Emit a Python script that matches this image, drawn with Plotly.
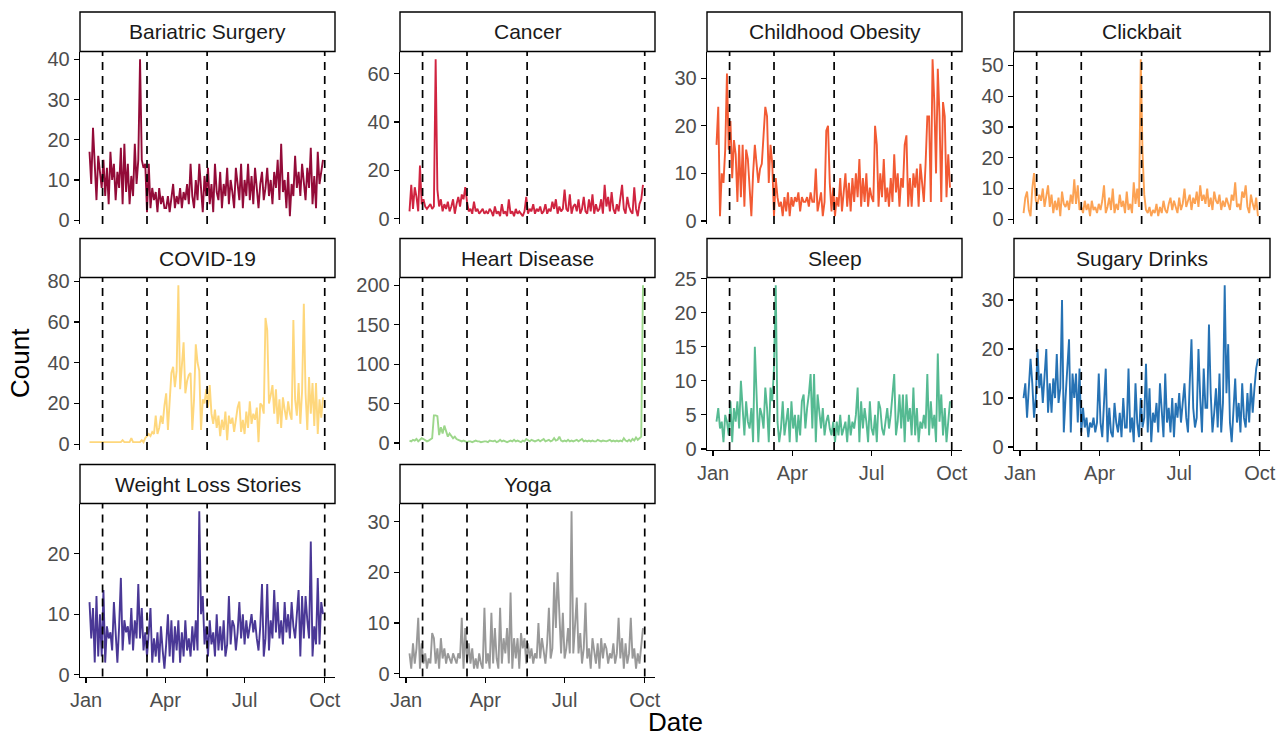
import pandas as pd
import plotly.graph_objects as go

# ---------------- data ----------------
dates = pd.date_range("2020-01-05", periods=135, freq="2D")

topics = ["Bariatric Surgery", "Cancer", "Childhood Obesity", "Clickbait", "COVID-19",
          "Heart Disease", "Sleep", "Sugary Drinks", "Weight Loss Stories", "Yoga"]

bariatric = [17, 9, 23, 12, 5, 16, 11, 8, 15, 6, 13, 4, 17, 10,
             14, 5, 12, 8, 18, 4, 19, 7, 14, 4, 11, 6, 19, 9,
             15, 40, 15, 13, 14, 2, 14, 3, 8, 5, 7, 2, 8, 4, 6, 3,
             3, 6, 2, 5, 9, 3, 6, 4, 8, 3, 7, 5, 9, 4, 14,
             6, 3, 10, 5, 14, 7, 2, 11, 6, 13, 4, 9, 2, 14, 7,
             5, 12, 3, 9, 6, 13, 4, 10, 7, 3, 13, 8, 5, 14, 3,
             10, 6, 14, 5, 11, 4, 13, 7, 3, 9, 12, 5, 8, 13, 6, 10,
             4, 12, 8, 15, 5, 19, 7, 10, 3, 12, 1, 9, 6, 16, 8,
             12, 6, 14, 9, 5, 13, 8, 18, 4, 11, 3, 17, 9, 12, 15]

cancer = [3, 14, 4, 13, 9, 3, 22, 6, 8, 5, 4, 5, 6, 4,
          5, 66, 12, 5, 8, 3, 6, 4, 7, 3, 5, 8, 2, 6,
          9, 5, 10, 8, 13, 7, 3, 4, 2, 7, 3, 4, 2, 3, 4, 2,
          3, 2, 4, 3, 1, 5, 2, 3, 1, 6, 2, 3, 1, 8, 2,
          3, 1, 4, 2, 3, 2, 1, 3, 9, 2, 4, 3, 6, 2, 4,
          3, 5, 2, 3, 6, 2, 4, 3, 7, 4, 8, 2, 5, 3, 4,
          12, 4, 3, 10, 2, 5, 6, 3, 8, 2, 4, 9, 3, 2, 8, 3,
          10, 2, 6, 3, 4, 8, 2, 14, 5, 9, 3, 11, 4, 2, 6,
          3, 8, 14, 4, 2, 9, 5, 3, 2, 13, 4, 1, 6, 8, 14]

childhood_obesity = [16, 24, 1, 10, 8, 15, 31, 15, 21, 9, 17, 14, 4, 16,
                     5, 16, 3, 15, 13, 7, 1, 10, 16, 12, 8, 11, 12, 18,
                     24, 22, 8, 16, 12, 1, 9, 5, 3, 4, 1, 5, 2, 6, 1, 5,
                     3, 5, 4, 6, 2, 5, 4, 4, 5, 3, 6, 4, 4, 11, 2,
                     4, 6, 1, 4, 19, 20, 8, 2, 7, 1, 5, 3, 9, 2, 6,
                     10, 3, 8, 2, 9, 4, 10, 5, 13, 3, 9, 4, 10, 3, 7,
                     5, 4, 20, 16, 3, 10, 5, 13, 4, 7, 3, 9, 4, 14, 6, 10,
                     3, 9, 7, 16, 18, 3, 9, 3, 10, 7, 11, 3, 12, 8, 4,
                     12, 22, 22, 4, 34, 25, 10, 32, 22, 4, 25, 22, 5, 14, 7]

clickbait = [2, 7, 9, 3, 1, 10, 15, 6, 5, 8, 6, 10, 4, 7,
             11, 4, 8, 2, 6, 3, 7, 1, 9, 5, 4, 6, 3, 8,
             5, 13, 5, 11, 3, 4, 2, 6, 3, 5, 1, 6, 3, 4, 2, 5,
             3, 6, 11, 2, 4, 7, 3, 10, 2, 5, 3, 8, 4, 6, 2,
             9, 3, 5, 2, 12, 5, 10, 4, 52, 22, 8, 3, 2, 4, 1,
             3, 2, 5, 1, 4, 2, 6, 3, 2, 5, 7, 3, 6, 4, 2,
             7, 3, 5, 10, 4, 6, 8, 3, 7, 5, 9, 4, 11, 6, 8, 5,
             10, 4, 7, 3, 9, 6, 5, 8, 3, 6, 4, 7, 5, 3, 8,
             6, 12, 4, 5, 3, 9, 7, 11, 4, 2, 8, 5, 3, 7, 1]

covid = [1, 1, 1, 1, 1, 1, 1, 1, 1, 1, 1, 1, 1, 1,
         1, 1, 1, 1, 1, 2, 1, 1, 1, 1, 3, 1, 1, 1,
         1, 1, 2, 1, 3, 4, 5, 4, 6, 5, 14, 5, 8, 14, 10, 19,
         25, 7, 19, 35, 38, 28, 36, 78, 27, 40, 50, 25, 31, 34, 35,
         7, 22, 49, 40, 36, 7, 22, 20, 27, 18, 29, 15, 10, 17, 8,
         14, 4, 12, 7, 16, 2, 14, 10, 13, 6, 12, 18, 21, 6, 12,
         5, 16, 8, 21, 10, 15, 12, 18, 1, 20, 19, 15, 62, 56, 20, 24,
         29, 15, 27, 10, 22, 8, 23, 17, 12, 21, 15, 12, 61, 22, 14,
         30, 10, 26, 69, 25, 7, 33, 15, 30, 9, 30, 5, 22, 13, 23]

heart_disease = [3, 2, 4, 3, 5, 2, 4, 6, 5, 3, 2, 3, 4, 6,
                 35, 35, 34, 10, 20, 12, 22, 15, 8, 12, 9, 6, 8, 5,
                 4, 3, 2, 3, 2, 1, 2, 2, 1, 2, 3, 2, 2, 1, 2, 2,
                 2, 1, 3, 2, 2, 3, 1, 2, 4, 2, 3, 2, 1, 2, 3,
                 2, 4, 2, 3, 2, 1, 3, 2, 5, 3, 2, 4, 3, 2, 3,
                 4, 2, 3, 5, 2, 3, 4, 2, 3, 6, 3, 4, 8, 3, 2,
                 3, 2, 4, 2, 3, 2, 3, 4, 2, 3, 5, 2, 3, 2, 3, 2,
                 3, 2, 2, 4, 3, 2, 3, 2, 2, 3, 4, 2, 3, 2, 3,
                 2, 3, 2, 6, 3, 2, 4, 2, 5, 3, 7, 4, 6, 8, 200]

sleep = [4, 6, 3, 4, 1, 5, 4, 2, 7, 1, 6, 4, 7, 3,
         10, 5, 2, 7, 4, 3, 6, 1, 15, 8, 1, 6, 5, 3,
         9, 6, 1, 9, 7, 12, 24, 4, 1, 3, 7, 2, 4, 6, 1, 7,
         3, 5, 1, 5, 2, 7, 8, 3, 6, 8, 11, 3, 11, 1, 8,
         5, 3, 6, 2, 4, 5, 3, 2, 4, 1, 4, 2, 5, 2, 3,
         4, 1, 5, 2, 4, 3, 5, 9, 1, 7, 3, 6, 4, 1, 7,
         3, 2, 5, 1, 7, 6, 3, 2, 4, 6, 3, 5, 8, 11, 2, 4,
         8, 3, 8, 1, 8, 4, 6, 2, 9, 2, 6, 1, 4, 3, 5,
         3, 11, 2, 7, 3, 5, 1, 14, 4, 8, 2, 6, 1, 4, 7]

sugary_drinks = [10, 13, 6, 12, 18, 13, 6, 10, 20, 12, 15, 9, 14, 20,
                 7, 13, 7, 14, 10, 19, 9, 12, 30, 3, 10, 15, 22, 3,
                 15, 10, 15, 5, 16, 3, 8, 4, 6, 2, 5, 4, 6, 3, 5, 15,
                 5, 2, 9, 16, 1, 8, 3, 2, 9, 5, 3, 7, 2, 10, 4,
                 4, 16, 3, 6, 1, 13, 5, 2, 10, 4, 6, 17, 3, 12, 1,
                 7, 5, 9, 3, 13, 7, 2, 15, 5, 8, 3, 10, 2, 9, 6,
                 11, 5, 9, 13, 6, 3, 13, 22, 8, 4, 6, 20, 10, 3, 16, 8,
                 8, 25, 11, 3, 7, 12, 4, 15, 3, 9, 33, 11, 21, 5, 1,
                 8, 14, 5, 9, 3, 13, 6, 4, 11, 5, 13, 7, 12, 16, 18]

weight_loss_stories = [12, 6, 11, 2, 13, 3, 10, 3, 14, 2, 8, 6, 7, 4,
                       12, 7, 2, 8, 16, 4, 9, 7, 8, 5, 11, 4, 9, 6,
                       15, 6, 11, 4, 7, 3, 8, 11, 2, 6, 3, 7, 2, 8, 4, 1,
                       5, 10, 3, 9, 2, 8, 4, 9, 2, 7, 3, 9, 4, 6, 3,
                       8, 4, 9, 4, 27, 10, 13, 5, 8, 3, 9, 5, 7, 3, 10,
                       4, 8, 4, 9, 3, 5, 13, 5, 9, 8, 4, 7, 12, 6, 10,
                       5, 9, 6, 8, 10, 7, 9, 6, 4, 8, 15, 3, 6, 15, 4, 9,
                       6, 14, 7, 12, 6, 9, 5, 12, 7, 10, 6, 12, 8, 6, 10,
                       14, 3, 13, 6, 13, 9, 6, 22, 3, 8, 5, 16, 5, 12, 10]

yoga = [4, 1, 6, 2, 5, 11, 1, 6, 2, 4, 1, 3, 2, 8,
        7, 2, 5, 1, 7, 3, 5, 2, 4, 3, 2, 4, 3, 2,
        4, 3, 11, 1, 9, 2, 6, 2, 5, 1, 3, 1, 4, 2, 1, 13,
        2, 4, 1, 12, 2, 9, 3, 1, 13, 2, 7, 4, 9, 2, 16,
        1, 7, 3, 7, 1, 8, 5, 7, 2, 6, 3, 5, 2, 4, 3,
        10, 3, 7, 4, 2, 6, 13, 3, 5, 18, 9, 20, 13, 4, 12,
        3, 5, 9, 4, 32, 4, 10, 15, 4, 8, 2, 5, 14, 3, 5, 1,
        7, 4, 2, 6, 1, 7, 3, 6, 5, 2, 4, 3, 6, 2, 4,
        11, 3, 7, 1, 6, 2, 4, 11, 3, 5, 1, 4, 2, 6, 9]

series = [bariatric, cancer, childhood_obesity, clickbait, covid,
          heart_disease, sleep, sugary_drinks, weight_loss_stories, yoga]

event_dates = ["2020-01-20", "2020-03-11", "2020-05-19", "2020-10-01"]
tick_dates = ["2020-01-01", "2020-04-01", "2020-07-01", "2020-10-01"]
tick_text = ["Jan", "Apr", "Jul", "Oct"]

# ---------------- styles / layout ----------------
colors = ["#930B38", "#D02440", "#F25A33", "#FCA253", "#FED77C",
          "#9DD78B", "#55BA92", "#2672B4", "#4A3896", "#999999"]
y_dticks = [10, 20, 10, 10, 20, 50, 5, 10, 10, 10]

W, H = 1285, 736


def fx(px):
    return px / W


def fy(py):
    return 1 - py / H


col_px = [(80, 335), (400, 655), (707, 962), (1014, 1270)]
row_px = [((12, 51.5), (51.5, 224)),
          ((238.5, 277.5), (277.5, 450)),
          ((464.5, 503.5), (503.5, 676.5))]
positions = [(0, 0), (0, 1), (0, 2), (0, 3), (1, 0), (1, 1), (1, 2), (1, 3), (2, 0), (2, 1)]
bottom_panels = {6, 7, 8, 9}
x_range = ["2019-12-25 02:00:00", "2020-10-12 19:00:00"]
FONT = "Liberation Sans, Arial, Helvetica, sans-serif"
TICK_SIZE = 20
STRIP_SIZE = 21
TITLE_SIZE = 26

fig = go.Figure()
layout_axes = {}
shapes = []
annotations = []

for i, (name, vals, color) in enumerate(zip(topics, series, colors)):
    r, c = positions[i]
    n = i + 1
    xa = "x" if n == 1 else f"x{n}"
    ya = "y" if n == 1 else f"y{n}"
    xkey = "xaxis" if n == 1 else f"xaxis{n}"
    ykey = "yaxis" if n == 1 else f"yaxis{n}"
    fig.add_trace(go.Scatter(x=dates, y=vals, mode="lines",
                             line=dict(color=color, width=1.9),
                             xaxis=xa, yaxis=ya, showlegend=False, name=name))
    sx0, sx1 = col_px[c]
    (st, sb), (pt, pb) = row_px[r]
    is_bottom = i in bottom_panels
    layout_axes[xkey] = dict(
        domain=[fx(sx0), fx(sx1)], anchor=ya, type="date", range=x_range,
        tickvals=tick_dates, ticktext=tick_text, showticklabels=is_bottom,
        ticks="outside" if is_bottom else "", ticklen=5, tickwidth=1.2, tickcolor="black",
        showline=is_bottom, linecolor="black", linewidth=1.3,
        showgrid=False, zeroline=False, automargin=False,
        tickfont=dict(size=TICK_SIZE, color="#4D4D4D", family=FONT))
    lo, hi = min(vals), max(vals)
    pad = 0.05 * (hi - lo)
    layout_axes[ykey] = dict(
        domain=[fy(pb), fy(pt)], anchor=xa, range=[lo - pad, hi + pad],
        tick0=0, dtick=y_dticks[i], ticks="outside", ticklen=5, tickwidth=1.2,
        tickcolor="black", showline=True, linecolor="black", linewidth=1.3,
        showgrid=False, zeroline=False, automargin=False,
        tickfont=dict(size=TICK_SIZE, color="#4D4D4D", family=FONT))
    for d in event_dates:
        shapes.append(dict(type="line", xref=xa, yref=f"{ya} domain",
                           x0=d, x1=d, y0=0, y1=1,
                           line=dict(color="black", width=1.7, dash="8px,6px")))
    shapes.append(dict(type="rect", xref="paper", yref="paper",
                       x0=fx(sx0), x1=fx(sx1), y0=fy(sb), y1=fy(st),
                       line=dict(color="black", width=1.4), fillcolor="white"))
    annotations.append(dict(text=name, xref="paper", yref="paper",
                            x=fx((sx0 + sx1) / 2), y=fy((st + sb) / 2),
                            showarrow=False, xanchor="center", yanchor="middle",
                            font=dict(size=STRIP_SIZE, color="#1A1A1A", family=FONT)))

annotations.append(dict(text="Count", xref="paper", yref="paper",
                        x=fx(20), y=fy(363), textangle=-90, showarrow=False,
                        xanchor="center", yanchor="middle",
                        font=dict(size=TITLE_SIZE, color="black", family=FONT)))
annotations.append(dict(text="Date", xref="paper", yref="paper",
                        x=fx(675), y=fy(722), showarrow=False,
                        xanchor="center", yanchor="middle",
                        font=dict(size=TITLE_SIZE, color="black", family=FONT)))

fig.update_layout(width=W, height=H, margin=dict(l=0, r=0, t=0, b=0, autoexpand=False),
                  paper_bgcolor="white", plot_bgcolor="white", hovermode=False,
                  font=dict(family=FONT), shapes=shapes, annotations=annotations,
                  **layout_axes)

# remove the browser's default body margin so the figure fills the window exactly
fig.write_html("out.html", config={"displayModeBar": False, "staticPlot": True},
               post_script="document.body.style.margin='0px';document.body.style.overflow='hidden';")
